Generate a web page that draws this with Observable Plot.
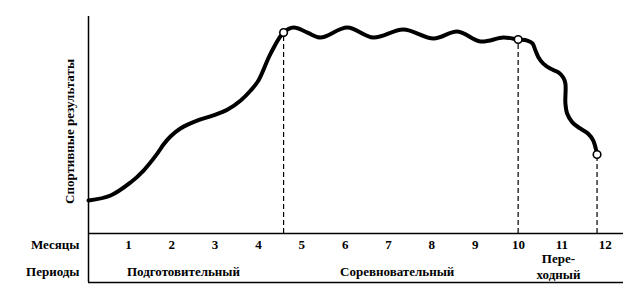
<!DOCTYPE html>
<html>
<head>
<meta charset="utf-8">
<script src="https://cdn.jsdelivr.net/npm/d3@7"></script>
<script src="https://cdn.jsdelivr.net/npm/@observablehq/plot@0.6"></script>
<style>
  html, body { margin: 0; padding: 0; background: #fff; }
  #chart svg { display: block; font-family: 'Liberation Serif', 'Times New Roman', serif !important; }
  #chart svg text { font-family: 'Liberation Serif', 'Times New Roman', serif !important; }
</style>
</head>
<body>
<div id="chart"></div>
<script>
// Month tick values and labels
const months = [1, 2, 3, 4, 5, 6, 7, 8, 9, 10, 11, 12];
const monthLabels = ["1", "2", "3", "4", "5", "6", "7", "8", "9", "10", "11", "12"];

// Curve of sports results (x in months, y in relative units 0..100)
const curveX = [0.08, 0.59, 1.05, 1.35, 1.67, 1.81, 1.97, 2.20, 2.60, 2.96, 3.29, 3.59, 3.82, 4.00, 4.28, 4.58,
  4.81, 5.13, 5.43, 6.05, 6.65, 7.34, 8.04, 8.59, 9.12, 9.65, 9.99,
  10.20, 10.32, 10.39, 10.46, 10.57, 10.73, 10.92, 11.03, 11.08, 11.08, 11.12, 11.24, 11.42, 11.60, 11.72, 11.81];
const curveY = [15.2, 17.5, 23.5, 29.0, 36.9, 41.0, 44.7, 48.4, 52.1, 54.4, 57.1, 61.3, 65.9, 70.5, 82.9, 92.6,
  94.9, 92.6, 90.3, 94.9, 90.3, 94.0, 89.9, 93.1, 88.5, 90.3, 89.4,
  88.9, 87.6, 84.3, 81.1, 78.3, 76.0, 74.2, 71.9, 69.1, 59.9, 55.3, 51.2, 48.4, 46.1, 42.9, 36.4];

// Period boundary markers
const markerX = [4.58, 9.99, 11.81];
const markerY = [92.6, 89.4, 36.4];

// Periods
const periodNames = ["Подготовительный", "Соревновательный"];
const periodX = [2.27, 7.2];
const transitionName = "Пере-\nходный";
const transitionX = 10.92;

const rowLabels = ["Месяцы", "Периоды"];
const yLabel = "Спортивные результаты";

const curve = curveX.map((x, i) => ({x, y: curveY[i]}));
const markers = markerX.map((x, i) => ({x, y: markerY[i]}));

const X0 = 0.08, X1 = 12.42;
const YMIN = -22.6, YMAX = 100;

const font = "'Liberation Serif', 'Times New Roman', serif";
const txt = {lineAnchor: "middle", fontSize: 13, fontWeight: "bold", fill: "#000", fontFamily: font};

const chart = Plot.plot({
  width: 626,
  height: 307,
  marginLeft: 88,
  marginRight: 3,
  marginTop: 16,
  marginBottom: 25,
  style: {background: "#fff", color: "#000"},
  x: {domain: [X0, X1], axis: null},
  y: {domain: [YMIN, YMAX], axis: null},
  marks: [
    Plot.ruleX([X0], {y1: YMIN, y2: YMAX, stroke: "#000", strokeWidth: 1.5}),
    Plot.ruleY([0, YMIN], {x1: X0, x2: X1, stroke: "#000", strokeWidth: 1.5}),
    Plot.ruleX(markers, {x: "x", y1: 0, y2: "y", stroke: "#000", strokeWidth: 1.2, strokeDasharray: "5,3"}),
    Plot.line(curve, {x: "x", y: "y", curve: "catmull-rom", stroke: "#000", strokeWidth: 4, strokeLinejoin: "round", strokeLinecap: "round"}),
    Plot.dot(markers, {x: "x", y: "y", r: 3.8, fill: "#fff", stroke: "#000", strokeWidth: 1.6}),
    Plot.text(months, {x: d => d, y: 0, text: (d, i) => monthLabels[i], dy: 11, ...txt}),
    Plot.text([rowLabels[0]], {x: X0, y: 0, dx: -9, dy: 11, textAnchor: "end", ...txt}),
    Plot.text([rowLabels[1]], {x: X0, y: 0, dx: -9, dy: 38, textAnchor: "end", ...txt}),
    Plot.text(periodNames, {x: (d, i) => periodX[i], y: 0, dy: 38, ...txt}),
    Plot.text([transitionName], {x: transitionX, y: 0, dy: 32.5, lineHeight: 1.2, ...txt}),
    Plot.text([yLabel], {x: X0, y: (233 - 131) / 2.17, dx: -19, rotate: -90, ...txt})
  ]
});

document.getElementById("chart").appendChild(chart);
</script>
</body>
</html>
